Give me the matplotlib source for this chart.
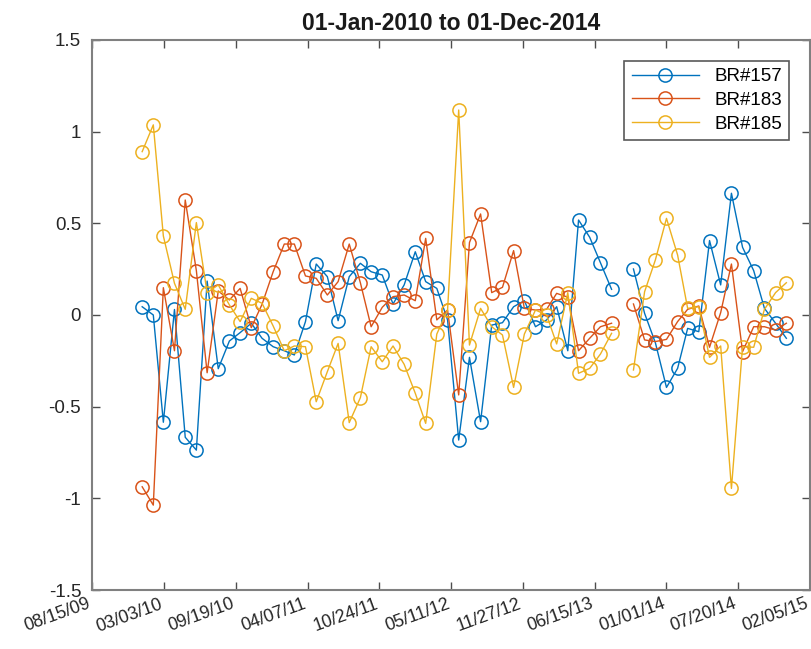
import matplotlib
matplotlib.use('Agg')
import numpy as np
import pandas as pd
import matplotlib.pyplot as plt
import matplotlib.dates as mdates
import matplotlib.transforms as mtransforms
from matplotlib.ticker import FixedLocator, FuncFormatter

plt.rcParams['font.family'] = ['Liberation Sans', 'DejaVu Sans']
plt.rcParams['axes.unicode_minus'] = False

# monthly, 01-Jan-2010 .. 01-Dec-2014 (Sep 2013 missing)
months = pd.date_range('2010-01-01', '2014-12-01', freq='MS')

br157 = [0.045, 0.0, -0.585, 0.03, -0.667, -0.737, 0.185, -0.293, -0.142, -0.096, -0.045, -0.127,
         -0.173, -0.195, -0.218, -0.036, 0.278, 0.209, -0.031, 0.209, 0.282, 0.236, 0.218, 0.06,
         0.164, 0.345, 0.182, 0.145, -0.027, -0.682, -0.231, -0.582, -0.055, -0.042, 0.045, 0.078,
         -0.064, -0.027, 0.045, -0.195, 0.518, 0.424, 0.285, 0.14, np.nan, 0.251, 0.009, -0.151,
         -0.395, -0.291, -0.073, -0.091, 0.406, 0.164, 0.664, 0.369, 0.242, 0.036, -0.045, -0.127]

br183 = [-0.937, -1.037, 0.149, -0.195, 0.627, 0.242, -0.315, 0.131, 0.082, 0.145, -0.069, 0.058,
         0.236, 0.387, 0.387, 0.213, 0.2, 0.109, 0.182, 0.387, 0.176, -0.064, 0.042, 0.1,
         0.109, 0.078, 0.418, -0.027, 0.027, -0.436, 0.395, 0.551, 0.122, 0.151, 0.351, 0.036,
         0.027, 0.031, 0.118, 0.097, -0.195, -0.127, -0.064, -0.045, np.nan, 0.06, -0.136, -0.145,
         -0.133, -0.036, 0.031, 0.049, -0.176, 0.013, 0.278, -0.2, -0.064, -0.064, -0.082, -0.045]

br185 = [0.891, 1.037, 0.431, 0.173, 0.031, 0.504, 0.122, 0.164, 0.055, -0.036, 0.091, 0.064,
         -0.06, -0.195, -0.169, -0.173, -0.473, -0.309, -0.155, -0.587, -0.451, -0.173, -0.255, -0.169,
         -0.269, -0.427, -0.591, -0.104, 0.027, 1.118, -0.164, 0.036, -0.064, -0.109, -0.395, -0.104,
         0.027, 0.0, -0.158, 0.122, -0.318, -0.291, -0.213, -0.1, np.nan, -0.3, 0.127, 0.3,
         0.527, 0.327, 0.036, 0.045, -0.231, -0.169, -0.946, -0.173, -0.176, 0.031, 0.122, 0.176]

series = [('BR#157', br157, '#0072BD'),
          ('BR#183', br183, '#D95319'),
          ('BR#185', br185, '#EDB120')]

xticks = pd.date_range('2009-08-15', periods=11, freq='200D')

fig = plt.figure(figsize=(8.11, 6.49), dpi=100)
ax = fig.add_axes([0.1138, 0.0909, 0.885, 0.8475])

for name, vals, col in series:
    ax.plot(months, vals, '-o', color=col, lw=1.0, ms=9.5, mfc='none', mew=1.1, label=name)

ax.set_xlim(xticks[0], xticks[-1])
ax.set_ylim(-1.5, 1.5)
ax.xaxis.set_major_locator(FixedLocator(mdates.date2num(xticks)))
ax.xaxis.set_major_formatter(mdates.DateFormatter('%m/%d/%y'))
ax.set_yticks(np.arange(-1.5, 1.51, 0.5))
ax.yaxis.set_major_formatter(FuncFormatter(lambda v, p: '%g' % round(v, 2)))

ax.tick_params(direction='in', length=6, width=1, color='0.3', labelsize=13.5,
               labelcolor='#262626', top=True, right=True)
ax.tick_params(axis='y', pad=8)
ax.tick_params(axis='x', labelsize=12.8, pad=4)
shift = mtransforms.ScaledTranslation(-5 / 100, 0, fig.dpi_scale_trans)
for lab in ax.get_xticklabels():
    lab.set_rotation(20)
    lab.set_ha('right')
    lab.set_va('top')
    lab.set_rotation_mode('anchor')
    lab.set_transform(lab.get_transform() + shift)
for sp in ax.spines.values():
    sp.set_color('0.5')
    sp.set_linewidth(1.5)

ax.set_title('01-Jan-2010 to 01-Dec-2014', fontsize=16.5, fontweight='bold', color='#1a1a1a', pad=7)

leg = ax.legend(loc='upper right', fontsize=13.5, fancybox=False, framealpha=1,
                edgecolor='0.35', handlelength=3.6, borderaxespad=1.1, labelspacing=0.35)
leg.get_frame().set_linewidth(1.2)

fig.savefig('out.png', dpi=100)
